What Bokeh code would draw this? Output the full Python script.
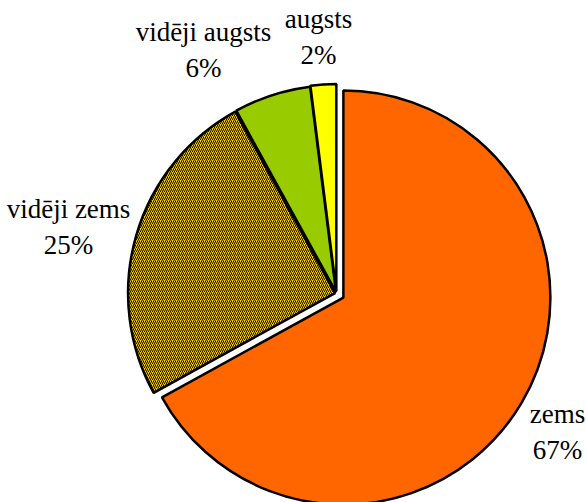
import math
from bokeh.plotting import figure
from bokeh.models import ColumnDataSource, Range1d
from bokeh.core.properties import value
from bokeh.embed import file_html
from bokeh.resources import INLINE

categories = ["zems", "vidēji zems", "vidēji augsts", "augsts"]
values = [67, 25, 6, 2]
labels = ["zems\n67%", "vidēji zems\n25%", "vidēji augsts\n6%", "augsts\n2%"]
colors = ["#FF6600", "#FFCC00", "#99CC00", "#FFFF00"]
hatches = ["blank", "right_diagonal_line", "blank", "blank"]
explode = [8, 1.5, 1.5, 2.5]
label_x = [557, 68, 203, 318]
label_y = [71, 276, 453, 466]

W, H = 586, 502
p = figure(width=W, height=H, output_backend="svg", toolbar_location=None,
           x_range=Range1d(0, W), y_range=Range1d(0, H), min_border=0)
p.axis.visible = False
p.grid.visible = False
p.outline_line_color = None

cx, cy, r = 336, 209, 207
total = sum(values)
starts, ends, xs, ys = [], [], [], []
ang = math.pi / 2
for v, e in zip(values, explode):
    sweep = 2 * math.pi * v / total
    end = ang
    start = ang - sweep
    mid = (start + end) / 2
    starts.append(start)
    ends.append(end)
    xs.append(cx + e * math.cos(mid))
    ys.append(cy + e * math.sin(mid))
    ang = start

src = ColumnDataSource(dict(x=xs, y=ys, s=starts, e=ends, c=colors, h=hatches))
p.wedge(x="x", y="y", radius=r, start_angle="s", end_angle="e", source=src,
        fill_color="c", line_color="black", line_width=2.5,
        hatch_pattern="h", hatch_color="black", hatch_scale=4, hatch_weight=1.0)

lsrc = ColumnDataSource(dict(x=label_x, y=label_y, t=labels))
p.text(x="x", y="y", text="t", source=lsrc, text_font=value("Liberation Serif"),
       text_font_size="27px", text_align="center", text_baseline="middle",
       text_line_height=1.2, text_color="black")

open("out.html", "w").write(file_html(p, INLINE))
